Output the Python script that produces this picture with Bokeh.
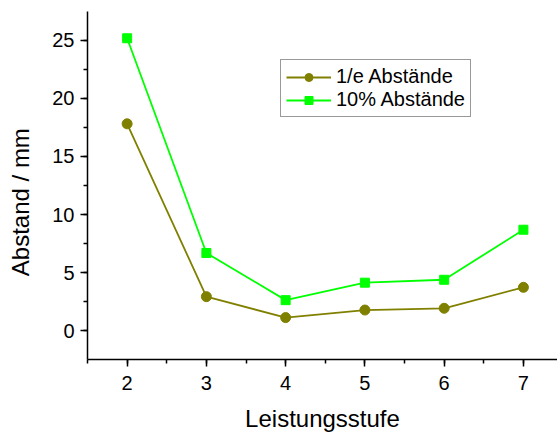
from bokeh.plotting import figure
from bokeh.models import Range1d, SingleIntervalTicker, Legend, LegendItem
from bokeh.embed import file_html
from bokeh.resources import INLINE

stufe = [2, 3, 4, 5, 6, 7]
abst_1e = [17.8, 2.95, 1.15, 1.8, 1.95, 3.75]
abst_10 = [25.15, 6.7, 2.65, 4.15, 4.4, 8.7]
x_title = "Leistungsstufe"
y_title = "Abstand / mm"

p = figure(width=557, height=434, output_backend="svg", toolbar_location=None,
           x_range=Range1d(1.5, 7.43), y_range=Range1d(-2.45, 27.45),
           min_border_left=87, min_border_right=0, min_border_top=11, min_border_bottom=74)
p.outline_line_color = None
p.xgrid.visible = False
p.ygrid.visible = False
p.background_fill_color = "white"
p.border_fill_color = "white"

FONT = "Liberation Sans"
for ax in (p.xaxis[0], p.yaxis[0]):
    ax.axis_line_color = "black"
    ax.axis_line_width = 1.5
    ax.major_tick_line_color = "black"
    ax.minor_tick_line_color = "black"
    ax.major_tick_line_width = 1.5
    ax.minor_tick_line_width = 1.5
    ax.major_tick_in = 0
    ax.major_tick_out = 7
    ax.minor_tick_in = 0
    ax.minor_tick_out = 4
    ax.major_label_text_font = FONT
    ax.major_label_text_font_size = "20px"
    ax.major_label_text_color = "black"
    ax.axis_label_text_font = FONT
    ax.axis_label_text_font_size = "24px"
    ax.axis_label_text_font_style = "normal"
    ax.axis_label_text_color = "black"

p.xaxis[0].ticker = SingleIntervalTicker(interval=1, num_minor_ticks=2)
p.yaxis[0].ticker = SingleIntervalTicker(interval=5, num_minor_ticks=2)
p.xaxis[0].axis_label = x_title
# trailing no-break spaces shift the rotated label's visible text downward
p.yaxis[0].axis_label = y_title + "\u00a0" * 5
p.xaxis[0].major_label_standoff = 9
p.yaxis[0].major_label_standoff = 6
p.xaxis[0].axis_label_standoff = 12
p.yaxis[0].axis_label_standoff = 15

OLIVE = "#808000"
GREEN = "#00ff00"
l1 = p.line(stufe, abst_1e, line_color=OLIVE, line_width=1.8)
m1 = p.scatter(stufe, abst_1e, marker="circle", size=10, fill_color=OLIVE, line_color=OLIVE)
l2 = p.line(stufe, abst_10, line_color=GREEN, line_width=1.8)
m2 = p.scatter(stufe, abst_10, marker="square", size=9, fill_color=GREEN, line_color=GREEN)

legend = Legend(items=[LegendItem(label="1/e Abstände", renderers=[l1, m1]),
                       LegendItem(label="10% Abstände", renderers=[l2, m2])],
                location=(193, 242))
legend.label_text_font = FONT
legend.label_text_font_size = "20px"
legend.label_text_color = "black"
legend.glyph_width = 45
legend.glyph_height = 20
legend.label_height = 20
legend.spacing = 0
legend.padding = 5
legend.margin = 0
legend.label_standoff = 5
legend.border_line_color = "#333333"
legend.border_line_width = 1.5
legend.background_fill_alpha = 1
p.add_layout(legend, "center")

open("out.html", "w").write(file_html(p, INLINE))
